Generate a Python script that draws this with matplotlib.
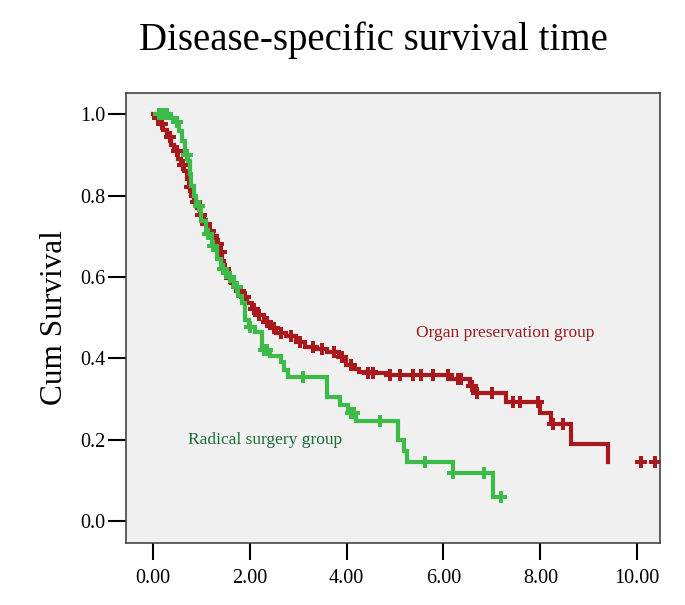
import matplotlib
matplotlib.use('Agg')
import matplotlib.pyplot as plt

# organ preservation group: event times and survival after each step
red_t = [0.0, 0.08, 0.15, 0.22, 0.30, 0.38, 0.45, 0.52, 0.58, 0.64, 0.70, 0.75, 0.80, 0.86, 0.92,
         0.98, 1.05, 1.12, 1.20, 1.30, 1.38, 1.43, 1.48, 1.55, 1.62, 1.72, 1.85, 1.95, 2.05,
         2.15, 2.30, 2.42, 2.55, 2.75, 2.95, 3.15, 3.40, 3.60, 3.85, 3.98, 4.15, 4.25, 4.60,
         4.85, 6.14, 6.55, 6.68, 7.30, 8.00, 8.23, 8.64, 9.40]
red_s = [1.0, 0.99, 0.975, 0.96, 0.945, 0.925, 0.91, 0.89, 0.875, 0.86, 0.84, 0.82, 0.80, 0.785, 0.77,
         0.752, 0.73, 0.712, 0.70, 0.68, 0.66, 0.64, 0.62, 0.598, 0.585, 0.565, 0.55, 0.535, 0.52,
         0.507, 0.49, 0.475, 0.463, 0.455, 0.44, 0.428, 0.422, 0.415, 0.404, 0.384, 0.374, 0.366, 0.364,
         0.359, 0.348, 0.333, 0.314, 0.292, 0.265, 0.238, 0.19, 0.144]
red_cens_t = [0.10, 0.20, 0.35, 0.50, 0.62, 0.78, 0.90, 1.00, 1.10, 1.18, 1.25, 1.35, 1.40, 1.50, 1.60,
              1.80, 1.90, 2.10, 2.20, 2.35, 2.50, 2.65, 2.85, 3.05, 3.30, 3.50, 3.75, 3.90, 4.10,
              4.45, 4.55, 4.90, 5.11, 5.38, 5.53, 5.79, 6.10, 6.30, 6.37, 6.58, 6.70, 7.00, 7.44,
              7.59, 7.96, 8.27, 8.47, 10.08, 10.37]
red_cens_s = [0.99, 0.975, 0.945, 0.91, 0.875, 0.82, 0.785, 0.752, 0.73, 0.712, 0.70, 0.68, 0.66, 0.62, 0.598,
              0.565, 0.55, 0.52, 0.507, 0.49, 0.475, 0.463, 0.455, 0.44, 0.428, 0.422, 0.415, 0.404, 0.384,
              0.364, 0.364, 0.359, 0.359, 0.359, 0.359, 0.359, 0.359, 0.348, 0.348, 0.333, 0.314, 0.314, 0.292,
              0.292, 0.292, 0.238, 0.238, 0.144, 0.144]

# radical surgery group
green_t = [0.06, 0.35, 0.45, 0.55, 0.60, 0.66, 0.72, 0.77, 0.80, 0.85, 0.90, 1.00, 1.10, 1.22, 1.32,
           1.40, 1.53, 1.67, 1.77, 1.84, 1.90, 1.98, 2.12, 2.25, 2.43, 2.64, 2.70, 2.80, 3.60,
           3.87, 4.04, 4.20, 5.07, 5.18, 5.24, 6.20, 7.03, 7.12]
green_s = [1.0, 0.99, 0.98, 0.958, 0.933, 0.90, 0.884, 0.854, 0.824, 0.80, 0.775, 0.738, 0.705, 0.676, 0.644,
           0.619, 0.60, 0.574, 0.552, 0.537, 0.495, 0.478, 0.465, 0.42, 0.406, 0.391, 0.371, 0.354, 0.305,
           0.285, 0.265, 0.245, 0.198, 0.173, 0.146, 0.117, 0.059, 0.059]
green_cens_t = [0.12, 0.22, 0.30, 0.50, 0.70, 0.95, 1.15, 1.25, 1.45, 1.60, 1.75, 2.00, 2.30, 2.35,
                3.11, 4.10, 4.15, 4.70, 5.62, 6.20, 6.83, 7.18]
green_cens_s = [1.0, 1.0, 1.0, 0.98, 0.90, 0.775, 0.705, 0.676, 0.619, 0.60, 0.574, 0.478, 0.42, 0.42,
                0.354, 0.265, 0.265, 0.245, 0.146, 0.117, 0.117, 0.059]

xticks = [0, 2, 4, 6, 8, 10]
yticks = [0.0, 0.2, 0.4, 0.6, 0.8, 1.0]

red = '#a8181c'
green = '#3dbb48'

plt.rcParams['font.family'] = ['Liberation Serif', 'DejaVu Serif']

fig = plt.figure(figsize=(6.85, 6.05), dpi=100)
ax = fig.add_axes([0.184, 0.1025, 0.7795, 0.7445])
ax.set_facecolor('#f0f0f0')

ax.step(red_t, red_s, where='post', color=red, lw=3.0, solid_joinstyle='miter')
ax.plot(red_cens_t, red_cens_s, 'P', color=red, ms=8.5, mew=0, ls='none')
ax.step(green_t, green_s, where='post', color=green, lw=3.0, solid_joinstyle='miter')
ax.plot(green_cens_t, green_cens_s, 'P', color=green, ms=8.5, mew=0, ls='none')

ax.text(5.44, 0.463, 'Organ preservation group', color='#9b1b1e', fontsize=12.5, va='center')
ax.text(0.72, 0.20, 'Radical surgery group', color='#1d6b37', fontsize=12.5, va='center')

ax.set_xlim(-0.55, 10.47)
ax.set_ylim(-0.054, 1.053)
ax.set_xticks(xticks)
ax.set_xticklabels(['%.2f' % v for v in xticks], fontsize=14.5)
ax.set_yticks(yticks)
ax.set_yticklabels(['%.1f' % v for v in yticks], fontsize=14.5)
ax.tick_params(axis='x', length=12.5, width=1.5, pad=6)
ax.tick_params(axis='y', length=13, width=1.5, pad=2)
for sp in ax.spines.values():
    sp.set_color('#444444')
    sp.set_linewidth(1.2)

ax.set_ylabel('Cum Survival', fontsize=22.5, labelpad=8)
fig.text(0.545, 0.933, 'Disease-specific survival time', fontsize=28, ha='center', va='center')

plt.savefig('out.png')
